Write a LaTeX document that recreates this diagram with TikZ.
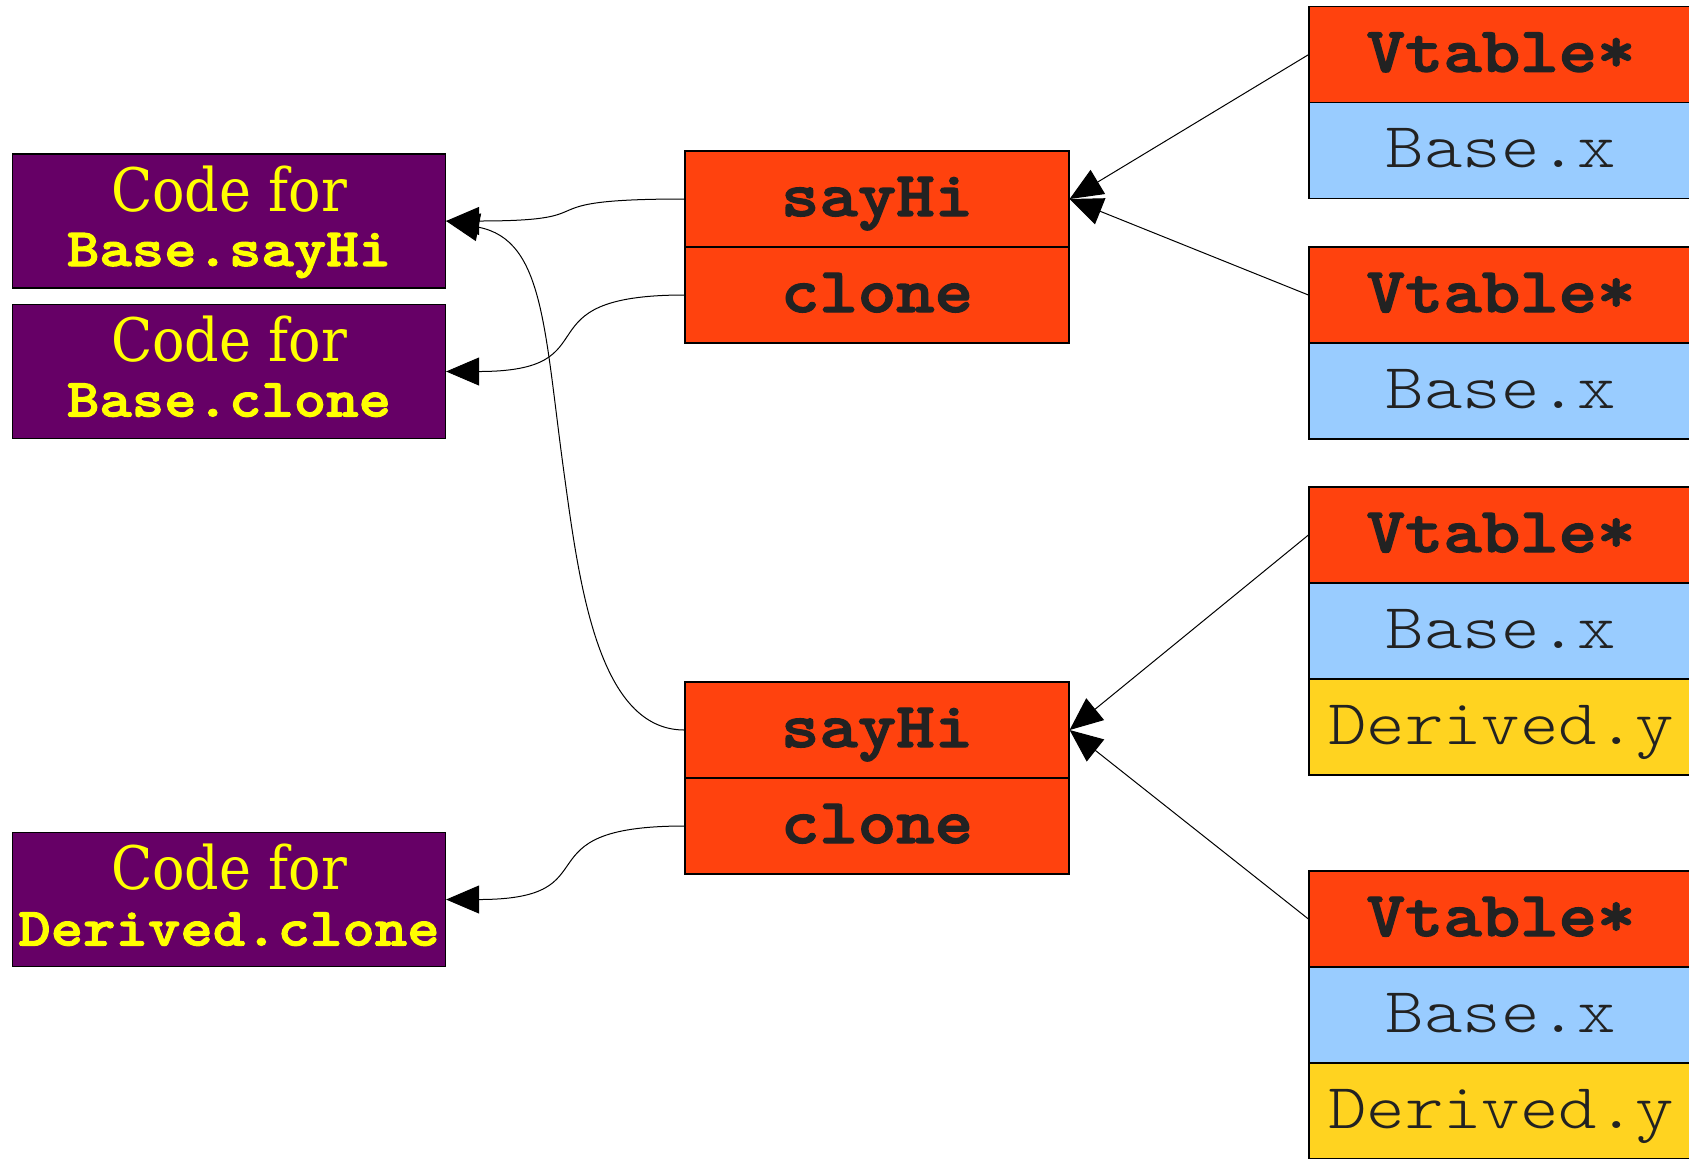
\documentclass[tikz,border=0pt]{standalone}
\usepackage{fontspec}
\usetikzlibrary{arrows.meta}
\newfontfamily\monoreg{lmmonolt10-regular.otf}[FakeStretch=1.143]
\newfontfamily\monobold{lmmonolt10-bold.otf}[FakeStretch=1.143,FakeBold=2]
\newfontfamily\serifc{DejaVu Serif}[FakeStretch=0.9]
\definecolor{vtorange}{HTML}{FF420E}
\definecolor{fldblue}{HTML}{99CCFF}
\definecolor{fldyellow}{HTML}{FFD320}
\definecolor{codepurple}{HTML}{660066}
\definecolor{codeyellow}{HTML}{FFFF00}
\definecolor{inkgray}{HTML}{222222}
\tikzset{
 cell/.style={draw=black, line width=0.6pt, minimum width=192pt, minimum height=48pt, inner sep=0pt, text height=19pt, text depth=2pt, text=inkgray, font=\monoreg\fontsize{32pt}{36pt}\selectfont},
 vcell/.style={cell, fill=vtorange, font=\monobold\fontsize{32pt}{36pt}\selectfont},
 bcell/.style={cell, fill=fldblue},
 ycell/.style={cell, fill=fldyellow},
 codebox/.style={draw=black, line width=0.6pt, fill=codepurple, minimum width=216.5pt, minimum height=67pt, inner sep=0pt},
 codehead/.style={anchor=base, text=codeyellow, inner sep=0pt, font=\serifc\fontsize{30pt}{30pt}\selectfont},
 codename/.style={anchor=base, text=codeyellow, inner sep=0pt, font=\monobold\fontsize{27pt}{30pt}\selectfont},
 conn/.style={line width=0.5pt, -{Triangle[length=16.5pt,width=14pt]}},
}
\begin{document}
\begin{tikzpicture}[x=0.5pt,y=-0.5pt]
\useasboundingbox (0,0) rectangle (1689,1158);
\begin{scope}
\clip (0,0) rectangle (1689,1158);
% code boxes
\node[codebox] (p1) at (229,221) {};
\node[codehead] (p1h) at ([yshift=5pt]p1.center) {Code for};
\node[codename] (p1n) at ([yshift=-22.5pt]p1.center) {Base.sayHi};
\node[codebox] (p2) at (229,371.5) {};
\node[codehead] (p2h) at ([yshift=5pt]p2.center) {Code for};
\node[codename] (p2n) at ([yshift=-22.5pt]p2.center) {Base.clone};
\node[codebox] (p3) at (229,899.5) {};
\node[codehead] (p3h) at ([yshift=5pt]p3.center) {Code for};
\node[codename] (p3n) at ([yshift=-23pt]p3.center) {Derived.clone};
% vtables
\node[vcell] (o1a) at (877,199) {sayHi};
\node[vcell] (o1b) at (877,295) {clone};
\node[vcell] (o2a) at (877,730) {sayHi};
\node[vcell] (o2b) at (877,826) {clone};
% objects
\node[vcell] (r1a) at (1501,54.7) {Vtable*};
\node[bcell] (r1b) at (1501,150.7) {Base.x};
\node[vcell] (r2a) at (1501,295) {Vtable*};
\node[bcell] (r2b) at (1501,391) {Base.x};
\node[vcell] (r3a) at (1501,535) {Vtable*};
\node[bcell] (r3b) at (1501,631) {Base.x};
\node[ycell] (r3c) at (1501,727) {Derived.y};
\node[vcell] (r4a) at (1501,919) {Vtable*};
\node[bcell] (r4b) at (1501,1015) {Base.x};
\node[ycell] (r4c) at (1501,1111) {Derived.y};
% connectors
\draw[conn] (o1a.west) .. controls +(-170,0) and +(170,0) .. (p1.east);
\draw[conn] (o1b.west) .. controls +(-170,0) and +(170,0) .. (p2.east);
\draw[conn] (o2b.west) .. controls +(-170,0) and +(170,0) .. (p3.east);
\draw[conn] (o2a.west) .. controls (600,730) and (580,590) .. (565,480)
   .. controls (544,330) and (545,240) .. (p1.east);
\draw[conn] (r1a.west) -- (o1a.east);
\draw[conn] (r2a.west) -- (o1a.east);
\draw[conn] (r3a.west) -- (o2a.east);
\draw[conn] (r4a.west) -- (o2a.east);
\end{scope}
\end{tikzpicture}
\end{document}
